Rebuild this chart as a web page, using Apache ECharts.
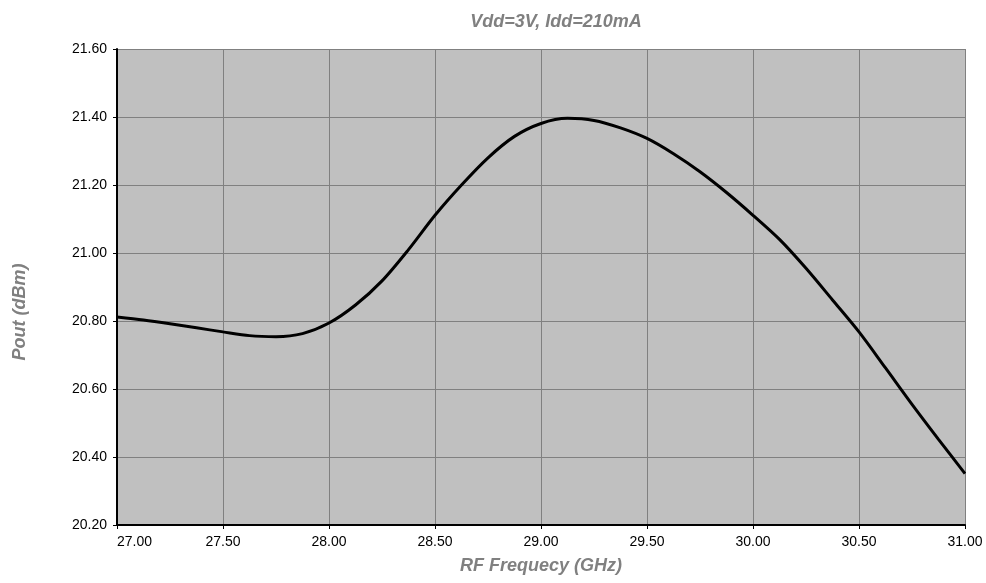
<!DOCTYPE html>
<html>
<head>
<meta charset="utf-8">
<script src="https://cdn.jsdelivr.net/npm/echarts@6/dist/echarts.min.js"></script>
<style>
  html, body { margin: 0; padding: 0; background: #fff; }
  #chart { width: 986px; height: 583px; }
</style>
</head>
<body>
<div id="chart"></div>
<script>
// RF frequency (GHz) and output power (dBm)
const freq = [27.000, 27.125, 27.250, 27.375, 27.500, 27.625, 27.750, 27.875, 28.000,
              28.125, 28.250, 28.375, 28.500, 28.625, 28.750, 28.875, 29.000,
              29.125, 29.250, 29.375, 29.500, 29.625, 29.750, 29.875, 30.000,
              30.125, 30.250, 30.375, 30.500, 30.625, 30.750, 30.875, 31.000]
const pout = [20.812, 20.803, 20.792, 20.780, 20.768, 20.757, 20.754, 20.763, 20.794,
              20.847, 20.918, 21.010, 21.111, 21.200, 21.280, 21.343, 21.381,
              21.396, 21.390, 21.368, 21.337, 21.292, 21.239, 21.178, 21.111,
              21.040, 20.955, 20.862, 20.768, 20.662, 20.555, 20.452, 20.351]

const chart = echarts.init(document.getElementById('chart'))

const font = 'Arial, "Liberation Sans", sans-serif'

chart.setOption({
  animation: false,
  title: {
    text: 'Vdd=3V, Idd=210mA',
    left: 551,
    top: 8,
    textAlign: 'center',
    textStyle: { color: '#808080', fontSize: 18, fontWeight: 'bold', fontStyle: 'italic', fontFamily: font }
  },
  grid: {
    left: 117,
    right: 21,
    top: 49,
    bottom: 58,
    show: true,
    backgroundColor: '#c0c0c0',
    borderWidth: 0,
    outerBoundsMode: 'none'
  },
  xAxis: {
    type: 'value',
    min: 27,
    max: 31,
    interval: 0.5,
    name: 'RF Frequecy (GHz)',
    nameLocation: 'middle',
    nameGap: 32,
    nameTextStyle: { color: '#808080', fontSize: 18, fontWeight: 'bold', fontStyle: 'italic', fontFamily: font },
    axisLine: { lineStyle: { color: '#000', width: 2 } },
    axisTick: { show: true, inside: false, length: 4, lineStyle: { color: '#000' } },
    axisLabel: {
      color: '#000',
      fontSize: 14,
      fontFamily: font,
      margin: 10,
      alignMinLabel: 'left',
      formatter: v => v.toFixed(2)
    },
    splitLine: { show: true, lineStyle: { color: '#808080', width: 1 } }
  },
  yAxis: {
    type: 'value',
    min: 20.2,
    max: 21.6,
    interval: 0.2,
    name: 'Pout (dBm)',
    nameLocation: 'middle',
    nameGap: 88,
    nameTextStyle: {
      color: '#808080', fontSize: 18, fontWeight: 'bold', fontStyle: 'italic', fontFamily: font,
      padding: [0, 50, 0, 0]
    },
    axisLine: { show: true, lineStyle: { color: '#000', width: 2 } },
    axisTick: { show: true, inside: false, length: 4, lineStyle: { color: '#000' } },
    axisLabel: {
      color: '#000',
      fontSize: 14,
      fontFamily: font,
      margin: 10,
      formatter: v => v.toFixed(2)
    },
    splitLine: { show: true, lineStyle: { color: '#808080', width: 1 } }
  },
  series: [{
    type: 'line',
    data: freq.map((f, i) => [f, pout[i]]),
    smooth: 0.3,
    showSymbol: false,
    lineStyle: { color: '#000', width: 3 }
  }]
})
</script>
</body>
</html>
